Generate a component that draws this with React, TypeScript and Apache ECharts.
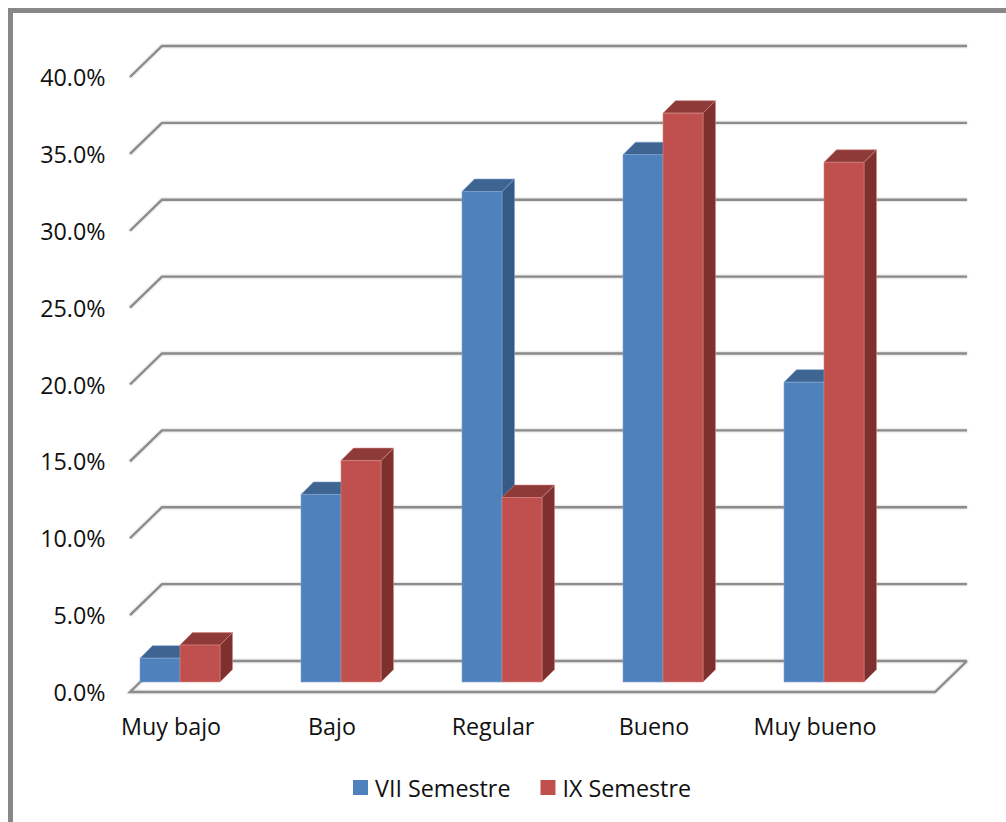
import React, { useEffect, useRef } from "react";
import * as echarts from "echarts";

const categories = ["Muy bajo", "Bajo", "Regular", "Bueno", "Muy bueno"];
const seriesNames = ["VII Semestre", "IX Semestre"];
const semester7 = [1.55, 12.2, 31.9, 34.3, 19.5];
const semester9 = [2.4, 14.4, 12.0, 37.0, 33.8];
const wallTicks = [0, 5, 10, 15, 20, 25, 30, 35, 40];

const FONT = "'Open Sans', sans-serif";
const FONT_SIZE = 23.3;
const TEXT_COLOR = "#111111";
const WALL_COLOR = "#8c8c8c";

// Projection of the pseudo-3D box, in pixels.
const WALL_DX = 32;
const WALL_DY = 31;
const FLOOR_INSET = 39.5;
const FLOOR_WIDTH = 805;
const BAR_SHIFT_X = 9;
const BAR_SHIFT_Y = 10;
const BAR_WIDTH = 40;
const BAR_DEPTH = 12.5;

const BLUE = { front: "#4f81bd", top: "#3e6492", side: "#345a85", edge: "#7fa3d0" };
const RED = { front: "#c0504d", top: "#8e3a38", side: "#7d302e", edge: "#d38785" };

function renderWall(params: any, api: any) {
  const rect = params.coordSys;
  const value = api.value(1);
  const y = api.coord([0, value])[1];
  const x0 = rect.x + FLOOR_INSET;
  const x1 = x0 + FLOOR_WIDTH;
  const points =
    value === 0
      ? [
          [x1 + WALL_DX, y - WALL_DY],
          [x1, y],
          [x0, y],
          [x0 + WALL_DX, y - WALL_DY],
          [x1 + WALL_DX, y - WALL_DY],
        ]
      : [
          [x0, y],
          [x0 + WALL_DX, y - WALL_DY],
          [x1 + WALL_DX, y - WALL_DY],
        ];
  return {
    type: "polyline",
    shape: { points },
    style: {
      stroke: WALL_COLOR,
      lineWidth: 2.4,
      fill: "none",
      shadowColor: "rgba(0,0,0,0.25)",
      shadowBlur: 2,
    },
  };
}

function barRenderer(side: "left" | "right", palette: typeof BLUE) {
  return (_params: any, api: any) => {
    const index = api.value(0);
    const [cx, topY] = api.coord([index, api.value(1)]);
    const baseY = api.coord([index, 0])[1] - BAR_SHIFT_Y;
    const top = topY - BAR_SHIFT_Y;
    const x0 = cx + BAR_SHIFT_X - (side === "left" ? BAR_WIDTH : 0);
    const x1 = x0 + BAR_WIDTH;
    const d = BAR_DEPTH;
    const edge = { stroke: palette.edge, lineWidth: 0.6 };
    return {
      type: "group",
      children: [
        {
          type: "polygon",
          shape: { points: [[x1, top], [x1 + d, top - d], [x1 + d, baseY - d], [x1, baseY]] },
          style: { fill: palette.side, ...edge },
        },
        {
          type: "polygon",
          shape: { points: [[x0, top], [x0 + d, top - d], [x1 + d, top - d], [x1, top]] },
          style: { fill: palette.top, ...edge },
        },
        {
          type: "rect",
          shape: { x: x0, y: top, width: BAR_WIDTH, height: baseY - top },
          style: { fill: palette.front, ...edge },
        },
      ],
    };
  };
}

export default function App() {
  const ref = useRef<HTMLDivElement>(null);

  useEffect(() => {
    document.body.style.margin = "0";
    const chart = echarts.init(ref.current!, null, { renderer: "svg" });
    chart.setOption({
      animation: false,
      backgroundColor: "#ffffff",
      textStyle: { fontFamily: FONT },
      grid: { left: 90.5, top: 77, width: 805, height: 615 },
      xAxis: {
        type: "category",
        data: categories,
        axisLine: { show: false },
        axisTick: { show: false },
        axisLabel: {
          interval: 0,
          margin: 22,
          fontFamily: FONT,
          fontSize: FONT_SIZE,
          color: TEXT_COLOR,
        },
      },
      yAxis: {
        type: "value",
        min: 0,
        max: 40,
        interval: 5,
        axisLine: { show: false },
        axisTick: { show: false },
        splitLine: { show: false },
        axisLabel: {
          margin: -15,
          formatter: (v: number) => `${v.toFixed(1)}%`,
          fontFamily: FONT,
          fontSize: FONT_SIZE,
          color: TEXT_COLOR,
        },
      },
      legend: {
        data: seriesNames,
        left: 348,
        top: 771,
        icon: "rect",
        itemWidth: 15,
        itemHeight: 15,
        itemGap: 30,
        textStyle: {
          fontFamily: FONT,
          fontSize: FONT_SIZE,
          color: TEXT_COLOR,
          padding: [0, 0, 0, 2],
        },
      },
      graphic: [
        {
          type: "rect",
          shape: { x: 10.5, y: 10.5, width: 1100, height: 900 },
          style: { fill: "none", stroke: "#888888", lineWidth: 5 },
          silent: true,
        },
      ],
      series: [
        {
          name: "walls",
          type: "custom",
          renderItem: renderWall,
          data: wallTicks.map((v) => [0, v]),
          silent: true,
        },
        {
          name: seriesNames[0],
          type: "custom",
          itemStyle: { color: BLUE.front },
          renderItem: barRenderer("left", BLUE),
          data: semester7.map((v, i) => [i, v]),
        },
        {
          name: seriesNames[1],
          type: "custom",
          itemStyle: { color: RED.front },
          renderItem: barRenderer("right", RED),
          data: semester9.map((v, i) => [i, v]),
        },
      ],
    });
    return () => chart.dispose();
  }, []);

  return <div ref={ref} style={{ width: 1006, height: 822 }} />;
}
